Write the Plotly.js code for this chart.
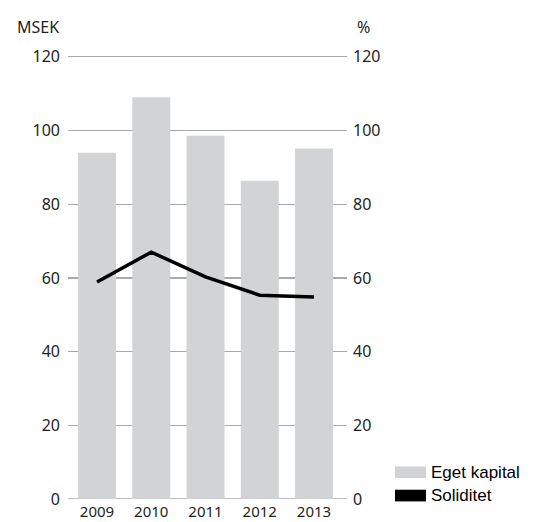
<!DOCTYPE html>
<html>
<head>
<meta charset="utf-8">
<script src="https://cdn.plot.ly/plotly-3.0.1.min.js"></script>
<style>html,body{margin:0;padding:0;background:#fff;}#chart{width:551px;height:522px;}</style>
</head>
<body>
<div id="chart"></div>
<script>
// Data
const years = ["2009", "2010", "2011", "2012", "2013"];
const egetKapital = [94.0, 109.0, 98.6, 86.4, 95.1];   // MSEK
const soliditet = [58.9, 67.0, 60.3, 55.3, 54.8];      // %
const yTicks = [0, 20, 40, 60, 80, 100, 120];
const seriesNames = ["Eget kapital", "Soliditet"];
const leftUnit = "MSEK";
const rightUnit = "%";

// Layout geometry (pixels)
const W = 551, H = 522;
const L = 68, R = 347, B = 499.3;
const pxPerUnit = (499.3 - 57) / 120;
const yMax = 120.5;
const T = B - yMax * pxPerUnit;
const px = x => (x - L) / (R - L);
const py = y => (B - y) / (B - T);

const tickFont = {family: "Noto Sans, Open Sans, sans-serif", size: 16, color: "#231f20"};
const gridColor = "#a7a9ac";
const barColor = "#d1d3d4";

const traces = [
  {type: "bar", x: years, y: egetKapital, name: seriesNames[0],
   marker: {color: barColor}, width: 0.7, showlegend: false, yaxis: "y"},
  {type: "scatter", mode: "lines", x: years, y: soliditet, name: seriesNames[1],
   line: {color: "#000000", width: 3.5}, showlegend: false, yaxis: "y2"}
];

const layout = {
  width: W, height: H,
  margin: {l: L, r: W - R, t: T, b: H - B},
  paper_bgcolor: "#fff", plot_bgcolor: "#fff",
  showlegend: false,
  xaxis: {type: "category", range: [-0.535, 4.608], showgrid: false, zeroline: false,
          showline: false, ticks: "", tickfont: {family: tickFont.family, size: 15, color: tickFont.color},
          ticklabelstandoff: 2},
  yaxis: {range: [0, yMax], tickvals: yTicks, showgrid: true, gridcolor: gridColor, gridwidth: 1.3,
          zeroline: false, showline: false, ticks: "", tickfont: tickFont, ticklabelstandoff: 7},
  yaxis2: {range: [0, yMax], tickvals: yTicks, overlaying: "y", side: "right", showgrid: false,
           zeroline: false, showline: false, ticks: "", tickfont: tickFont, ticklabelstandoff: 5},
  shapes: [
    {type: "line", xref: "paper", yref: "y", x0: 0, x1: 1, y0: 0, y1: 0, line: {color: gridColor, width: 1.3}, layer: "below"},
    {type: "rect", xref: "paper", yref: "paper", x0: px(395), x1: px(426), y0: py(478.3), y1: py(466.7),
     fillcolor: barColor, line: {width: 0}},
    {type: "rect", xref: "paper", yref: "paper", x0: px(395), x1: px(426), y0: py(501.7), y1: py(490),
     fillcolor: "#000000", line: {width: 0}}
  ],
  annotations: [
    {text: leftUnit, xref: "paper", yref: "paper", x: px(15), y: py(27), xanchor: "left", yanchor: "middle",
     showarrow: false, font: tickFont},
    {text: rightUnit, xref: "paper", yref: "paper", x: px(355), y: py(27), xanchor: "left", yanchor: "middle",
     showarrow: false, font: tickFont},
    {text: seriesNames[0], xref: "paper", yref: "paper", x: px(429), y: py(473), xanchor: "left", yanchor: "middle",
     showarrow: false, font: {family: "Liberation Sans, Arial, sans-serif", size: 17, color: "#000"}},
    {text: seriesNames[1], xref: "paper", yref: "paper", x: px(429), y: py(496), xanchor: "left", yanchor: "middle",
     showarrow: false, font: {family: "Liberation Sans, Arial, sans-serif", size: 17, color: "#000"}}
  ]
};

Plotly.newPlot("chart", traces, layout, {displayModeBar: false, staticPlot: true});
</script>
</body>
</html>
